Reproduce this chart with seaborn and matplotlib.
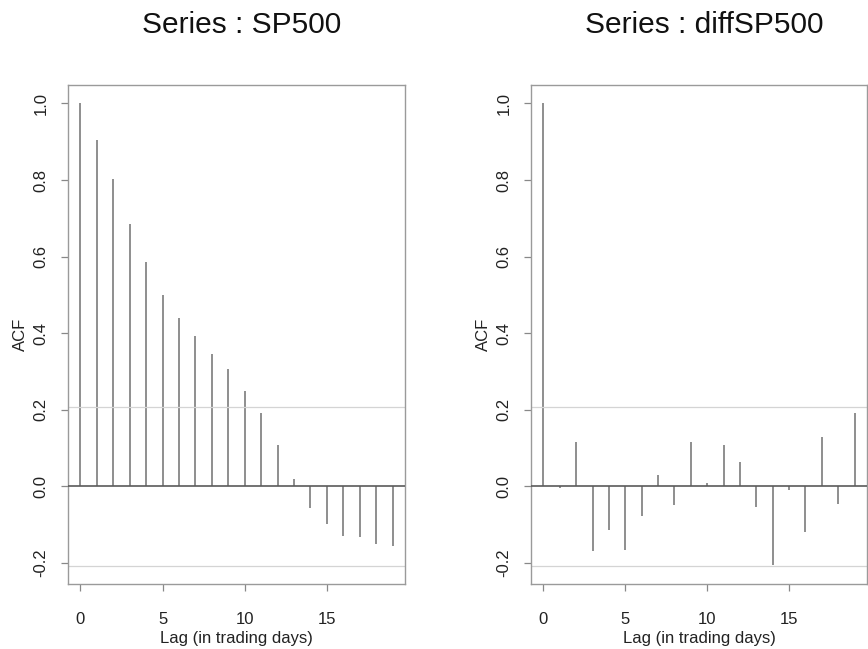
import numpy as np
import pandas as pd
import seaborn as sns
import matplotlib
matplotlib.use("Agg")
import matplotlib.pyplot as plt

# ---- data ----
lags = list(range(20))
acf_sp500 = [1.000, 0.905, 0.804, 0.685, 0.586, 0.500, 0.439, 0.393, 0.347, 0.306,
             0.250, 0.193, 0.109, 0.019, -0.057, -0.097, -0.129, -0.131, -0.151, -0.155]
acf_diff = [1.000, -0.003, 0.115, -0.168, -0.113, -0.165, -0.078, 0.030, -0.048, 0.115,
            0.009, 0.109, 0.065, -0.054, -0.206, -0.009, -0.120, 0.129, -0.045, 0.191]
conf_bound = 0.207
titles = ["Series : SP500", "Series : diffSP500"]
xticks = [0, 5, 10, 15]
yticks = [-0.2, 0.0, 0.2, 0.4, 0.6, 0.8, 1.0]
xlabel = "Lag (in trading days)"
ylabel = "ACF"

sns.set_style("white")
plt.rcParams["font.family"] = ["Liberation Sans", "DejaVu Sans"]

fig = plt.figure(figsize=(8.68, 6.49), dpi=100)
W, H = 868, 649
boxes = [(68, 405), (531, 867)]
top, bottom = 85, 584
ah = bottom - top

for (x0, x1), title, vals in zip(boxes, titles, [acf_sp500, acf_diff]):
    aw = x1 - x0
    ax = fig.add_axes([x0 / W, 1 - bottom / H, aw / W, ah / H])
    df = pd.DataFrame({"lag": lags, "acf": vals})
    sns.barplot(data=df, x="lag", y="acf", native_scale=True, width=0.002,
                color="#8e8e8e", saturation=1, edgecolor="#8e8e8e",
                linewidth=1.4, ax=ax)
    ax.axhline(0, color="#5a5a5a", lw=1.2, zorder=3)
    ax.axhline(conf_bound, color="#d4d4d4", lw=0.9, zorder=1)
    ax.axhline(-conf_bound, color="#d4d4d4", lw=0.9, zorder=1)
    ax.set_xlim(-0.76, 19.76)
    ax.set_ylim(-0.2547, 1.0483)
    ax.set_xticks(xticks)
    ax.set_xticklabels([str(t) for t in xticks], fontsize=12, color="#222222")
    ax.set_yticks(yticks)
    ax.set_yticklabels([f"{t:.1f}" for t in yticks], fontsize=12, rotation=90,
                       va="center", color="#222222")
    ax.tick_params(axis="both", which="both", direction="out", length=5, width=0.9,
                   color="#888888", left=True, bottom=True)
    ax.tick_params(axis="x", pad=15)
    ax.tick_params(axis="y", pad=9)
    for s in ax.spines.values():
        s.set_visible(True)
        s.set_color("#9a9a9a")
        s.set_linewidth(1.0)
    ax.set_xlabel(xlabel, fontsize=12, color="#222222")
    ax.xaxis.set_label_coords(0.5, -(631 - bottom) / ah)
    ax.set_ylabel(ylabel, fontsize=12, color="#222222", va="center")
    ax.yaxis.set_label_coords(-48 / aw, 0.5)
    ax.text(0.5 + 5 / aw, (bottom - 33) / ah, title, transform=ax.transAxes,
            ha="center", va="baseline", fontsize=21.5, color="#111111")
    ax.grid(False)

fig.savefig("out.png", dpi=100, facecolor="white")
